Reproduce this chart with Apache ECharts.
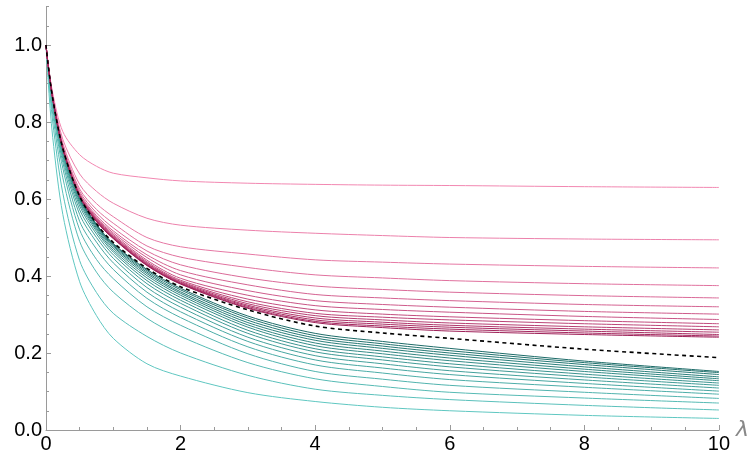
<!DOCTYPE html>
<html><head><meta charset="utf-8">
<script src="https://cdn.jsdelivr.net/npm/echarts@6/dist/echarts.min.js"></script>
<style>html,body{margin:0;padding:0;background:#fff}#c{width:752px;height:461px}</style>
</head><body><div id="c"></div>
<script>
// sample positions along lambda
const lambdaSamples = [0, 0.03, 0.1, 0.25, 0.5, 0.75, 1, 1.5, 2, 3, 4, 5, 6, 8, 10];

// magenta family (top to bottom)
const pink1  = [1, 0.955, 0.875, 0.775, 0.715, 0.685, 0.667, 0.655, 0.647, 0.641, 0.638, 0.636, 0.635, 0.632, 0.630];
const pink2  = [1, 0.953, 0.870, 0.755, 0.665, 0.620, 0.589, 0.550, 0.532, 0.519, 0.511, 0.505, 0.500, 0.496, 0.494];
const pink3  = [1, 0.952, 0.866, 0.745, 0.638, 0.588, 0.554, 0.500, 0.476, 0.457, 0.442, 0.436, 0.431, 0.425, 0.421];
const pink4  = [1, 0.952, 0.864, 0.740, 0.626, 0.573, 0.537, 0.478, 0.449, 0.422, 0.403, 0.395, 0.388, 0.380, 0.375];
const pink5  = [1, 0.951, 0.863, 0.737, 0.620, 0.564, 0.525, 0.465, 0.429, 0.395, 0.374, 0.365, 0.358, 0.349, 0.343];
const pink6  = [1, 0.951, 0.862, 0.735, 0.615, 0.557, 0.517, 0.455, 0.414, 0.377, 0.352, 0.343, 0.336, 0.326, 0.320];
const pink7  = [1, 0.951, 0.861, 0.733, 0.612, 0.553, 0.512, 0.448, 0.403, 0.362, 0.336, 0.326, 0.319, 0.308, 0.301];
const pink8  = [1, 0.951, 0.861, 0.732, 0.610, 0.550, 0.508, 0.441, 0.394, 0.350, 0.323, 0.313, 0.306, 0.295, 0.287];
const pink9  = [1, 0.951, 0.861, 0.732, 0.609, 0.548, 0.505, 0.437, 0.389, 0.340, 0.312, 0.301, 0.294, 0.284, 0.276];
const pink10 = [1, 0.951, 0.861, 0.731, 0.608, 0.546, 0.503, 0.434, 0.386, 0.333, 0.303, 0.293, 0.286, 0.276, 0.268];
const pink11 = [1, 0.951, 0.861, 0.731, 0.608, 0.545, 0.501, 0.432, 0.384, 0.328, 0.297, 0.286, 0.278, 0.268, 0.260];
const pink12 = [1, 0.951, 0.861, 0.731, 0.607, 0.544, 0.500, 0.430, 0.382, 0.324, 0.291, 0.280, 0.272, 0.262, 0.254];
const pink13 = [1, 0.951, 0.861, 0.731, 0.607, 0.543, 0.499, 0.429, 0.381, 0.321, 0.286, 0.275, 0.267, 0.257, 0.248];
const pink14 = [1, 0.951, 0.861, 0.731, 0.607, 0.542, 0.498, 0.428, 0.380, 0.318, 0.282, 0.270, 0.262, 0.252, 0.244];
const pink15 = [1, 0.951, 0.861, 0.731, 0.607, 0.541, 0.497, 0.427, 0.379, 0.316, 0.279, 0.266, 0.257, 0.248, 0.241];

// dashed separating curve
const dashedCurve = [1, 0.951, 0.861, 0.731, 0.607, 0.536, 0.487, 0.420, 0.372, 0.312, 0.270, 0.252, 0.238, 0.210, 0.188];

// teal family (top to bottom)
const teal1  = [1, 0.950, 0.860, 0.730, 0.605, 0.534, 0.484, 0.417, 0.368, 0.296, 0.251, 0.230, 0.212, 0.179, 0.152];
const teal2  = [1, 0.950, 0.859, 0.729, 0.604, 0.533, 0.482, 0.414, 0.364, 0.291, 0.245, 0.224, 0.206, 0.175, 0.149];
const teal3  = [1, 0.950, 0.858, 0.728, 0.603, 0.531, 0.479, 0.410, 0.359, 0.285, 0.239, 0.218, 0.200, 0.170, 0.144];
const teal4  = [1, 0.950, 0.857, 0.727, 0.601, 0.529, 0.476, 0.406, 0.355, 0.279, 0.233, 0.212, 0.194, 0.164, 0.138];
const teal5  = [1, 0.949, 0.856, 0.725, 0.598, 0.525, 0.472, 0.401, 0.350, 0.273, 0.226, 0.205, 0.187, 0.158, 0.133];
const teal6  = [1, 0.949, 0.855, 0.723, 0.594, 0.521, 0.467, 0.395, 0.344, 0.267, 0.219, 0.198, 0.180, 0.152, 0.128];
const teal7  = [1, 0.948, 0.854, 0.720, 0.589, 0.516, 0.462, 0.388, 0.337, 0.259, 0.211, 0.190, 0.172, 0.145, 0.122];
const teal8  = [1, 0.948, 0.852, 0.717, 0.582, 0.509, 0.455, 0.380, 0.329, 0.251, 0.203, 0.182, 0.164, 0.138, 0.116];
const teal9  = [1, 0.947, 0.850, 0.712, 0.572, 0.500, 0.446, 0.370, 0.319, 0.241, 0.193, 0.172, 0.154, 0.130, 0.109];
const teal10 = [1, 0.946, 0.847, 0.705, 0.560, 0.488, 0.434, 0.358, 0.307, 0.230, 0.182, 0.161, 0.144, 0.121, 0.101];
const teal11 = [1, 0.945, 0.843, 0.695, 0.542, 0.470, 0.417, 0.342, 0.292, 0.216, 0.169, 0.148, 0.131, 0.111, 0.093];
const teal12 = [1, 0.943, 0.835, 0.680, 0.520, 0.443, 0.393, 0.320, 0.272, 0.198, 0.152, 0.132, 0.116, 0.098, 0.082];
const teal13 = [1, 0.940, 0.820, 0.655, 0.490, 0.410, 0.358, 0.290, 0.243, 0.175, 0.133, 0.113, 0.098, 0.083, 0.070];
const teal14 = [1, 0.935, 0.800, 0.615, 0.440, 0.357, 0.303, 0.243, 0.200, 0.142, 0.106, 0.090, 0.079, 0.064, 0.052];
const teal15 = [1, 0.910, 0.760, 0.560, 0.385, 0.297, 0.238, 0.172, 0.140, 0.097, 0.074, 0.059, 0.050, 0.038, 0.030];

const xTicks = [0, 2, 4, 6, 8, 10];
const yTicks = [0, 0.2, 0.4, 0.6, 0.8, 1.0];

const pinkSet = [pink1,pink2,pink3,pink4,pink5,pink6,pink7,pink8,pink9,pink10,pink11,pink12,pink13,pink14,pink15];
const tealSet = [teal1,teal2,teal3,teal4,teal5,teal6,teal7,teal8,teal9,teal10,teal11,teal12,teal13,teal14,teal15];

function mix(a, b, t) {
  const pa = [1,3,5].map(i => parseInt(a.substr(i,2),16));
  const pb = [1,3,5].map(i => parseInt(b.substr(i,2),16));
  return 'rgb(' + pa.map((v,k) => Math.round(v + (pb[k]-v)*t)).join(',') + ')';
}
const toPts = vals => lambdaSamples.map((x,i) => [x, vals[i]]);
const SMOOTH = 0.3;

const series = [];
tealSet.forEach((vals, i) => {
  series.push({type:'line', data: toPts(vals), showSymbol:false, smooth:SMOOTH,
    lineStyle:{width:1, color: mix('#1d6b68', '#5fc7c1', i/(tealSet.length-1))}, silent:true, z:2});
});
pinkSet.forEach((vals, i) => {
  series.push({type:'line', data: toPts(vals), showSymbol:false, smooth:SMOOTH,
    lineStyle:{width:1, color: mix('#f287b1', '#9e2058', i/(pinkSet.length-1))}, silent:true, z:3});
});
series.push({type:'line', data: toPts(dashedCurve), showSymbol:false, smooth:SMOOTH,
  lineStyle:{width:1.6, color:'#000', type:[4,3.5]}, silent:true, z:4});

const axisGray = '#9a9a9a';
const chart = echarts.init(document.getElementById('c'));
chart.setOption({
  animation:false,
  grid:{left:46, right:19, top:6.5, bottom:31, containLabel:false},
  xAxis:{type:'value', min:xTicks[0], max:xTicks[xTicks.length-1], interval:2,
    name:'λ', nameLocation:'end', nameGap:5,
    nameTextStyle:{color:'#888', fontSize:22, fontStyle:'italic', fontFamily:'DejaVu Sans'},
    axisLine:{lineStyle:{color:axisGray, width:1}},
    axisTick:{inside:true, length:5, lineStyle:{color:axisGray}},
    minorTick:{show:true, splitNumber:4, length:3, lineStyle:{color:axisGray}},
    splitLine:{show:false},
    axisLabel:{color:'#000', fontSize:20, fontFamily:'Liberation Sans', margin:4}},
  yAxis:[{type:'value', min:0, max:1.1, interval:0.2,
    axisLine:{show:true, lineStyle:{color:axisGray, width:1}},
    axisTick:{inside:true, length:5, lineStyle:{color:axisGray}},
    splitLine:{show:false},
    axisLabel:{color:'#000', fontSize:20, fontFamily:'Liberation Sans', margin:4, showMaxLabel:false,
      formatter: v => yTicks.some(t => Math.abs(t-v)<1e-9) ? v.toFixed(1) : ''}},
   {type:'value', min:0, max:1.1, interval:0.05, position:'left',
    axisLine:{show:false}, axisTick:{inside:true, length:3, lineStyle:{color:axisGray}},
    splitLine:{show:false}, axisLabel:{show:false}}],
  series: series
});
</script></body></html>
